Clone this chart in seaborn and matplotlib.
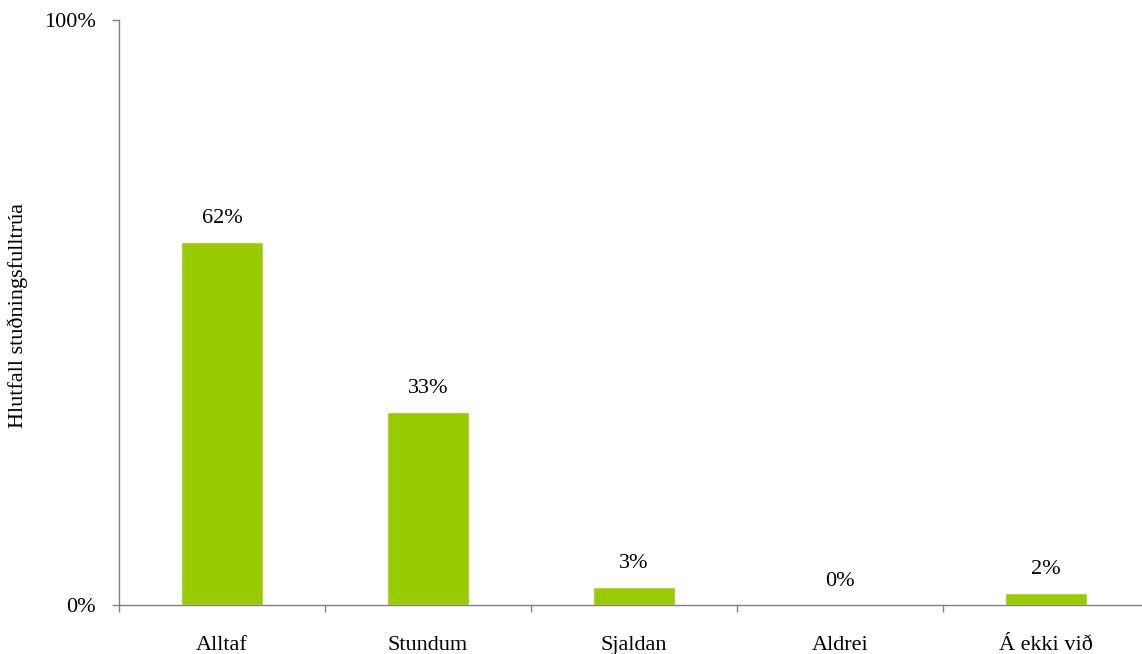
import matplotlib
matplotlib.use("Agg")
import matplotlib.pyplot as plt
import seaborn as sns

# chart data
categories = ['Alltaf', 'Stundum', 'Sjaldan', 'Aldrei', 'Á ekki við']
values = [62, 33, 3, 0, 2]
value_labels = ['62%', '33%', '3%', '0%', '2%']
ytick_values = [0, 100]
ytick_labels = ['0%', '100%']

sns.set_style('white')
plt.rcParams['font.family'] = ['Liberation Serif', 'DejaVu Serif']
plt.rcParams['text.color'] = 'black'
plt.rcParams['xtick.color'] = 'black'
plt.rcParams['ytick.color'] = 'black'

W, H = 1142, 654
fig = plt.figure(figsize=(W / 100, H / 100), dpi=100)
# axes extends slightly past the right edge, like the original
ax = fig.add_axes([119 / W, 1 - 605 / H, 1030 / W, 585 / H])

sns.barplot(x=categories, y=values, color='#99CC00', width=0.4,
            saturation=1, ax=ax)

ax.set_xlim(-0.5, 4.5)
ax.set_ylim(0, 100)

axis_color = '#808080'
for side in ['top', 'right']:
    ax.spines[side].set_visible(False)
for side in ['left', 'bottom']:
    ax.spines[side].set_color(axis_color)
    ax.spines[side].set_linewidth(1.0)

ax.set_yticks(ytick_values)
ax.set_yticklabels(ytick_labels, fontsize=16)
ax.tick_params(axis='y', left=True, direction='out', length=5, width=1,
               color=axis_color, labelcolor='black', pad=11.5)

# category labels without ticks, tick marks between categories
ax.tick_params(axis='x', which='major', bottom=False, length=0,
               labelsize=16, labelcolor='black', pad=22)
ax.set_xticks([i - 0.5 for i in range(len(categories) + 1)], minor=True)
ax.tick_params(axis='x', which='minor', bottom=True, direction='out',
               length=5, width=1, color=axis_color)

ax.set_xlabel('')
ax.set_ylabel('')
fig.text(18 / W, 1 - 315 / H, 'Hlutfall stuðningsfulltrúa', rotation=90,
         ha='center', va='center', fontsize=16, color='black')

for i, (v, lab) in enumerate(zip(values, value_labels)):
    ax.annotate(lab, xy=(i, v), xytext=(0, 14), textcoords='offset points',
                ha='center', va='baseline', fontsize=16, color='black')

fig.savefig('out.png', dpi=100)
